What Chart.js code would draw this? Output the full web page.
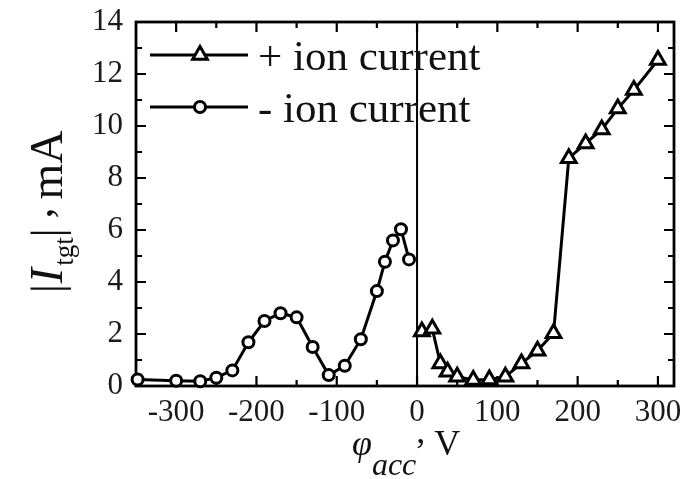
<!DOCTYPE html>
<html>
<head>
<meta charset="utf-8">
<script src="https://cdn.jsdelivr.net/npm/chart.js@4.4.0/dist/chart.umd.min.js"></script>
<style>
  html, body { margin: 0; padding: 0; background: #fff; }
  canvas { display: block; }
</style>
</head>
<body>
<canvas id="myChart" width="693" height="479"></canvas>
<script>
// + ion current (triangles)
const posX = [6, 19, 29, 38, 50, 70, 90, 110, 130, 150, 170, 189, 210, 230, 250, 270, 300];
const posY = [2.1, 2.2, 0.87, 0.55, 0.36, 0.23, 0.25, 0.36, 0.87, 1.36, 2.03, 8.76, 9.33, 9.87, 10.67, 11.38, 12.54];

// - ion current (circles)
const negX = [-348, -300, -270, -250, -230, -210, -190, -170, -150, -130, -110, -90, -70, -50, -40, -30, -20, -10];
const negY = [0.25, 0.2, 0.18, 0.32, 0.6, 1.68, 2.5, 2.8, 2.64, 1.5, 0.42, 0.78, 1.8, 3.65, 4.78, 5.6, 6.03, 4.87];

const xTicks = [-300, -200, -100, 0, 100, 200, 300];
const yTicks = [0, 2, 4, 6, 8, 10, 12, 14];
const seriesLabels = ['+ ion current', '- ion current'];

const serif = '"Liberation Serif", "Times New Roman", serif';

// draws a run of text pieces one after another
function drawRich(ctx, parts, x, y) {
  let pos = x;
  parts.forEach(p => {
    pos += p.gap || 0;
    ctx.font = p.font;
    ctx.fillText(p.text, pos, y + (p.dy || 0));
    pos += ctx.measureText(p.text).width;
  });
}

const framePlugin = {
  id: 'frame',
  beforeDatasetsDraw(chart) {
    const { ctx, chartArea: a, scales: { x, y } } = chart;
    ctx.save();
    ctx.strokeStyle = '#000';
    ctx.lineWidth = 2.8;
    ctx.strokeRect(a.left, a.top, a.right - a.left, a.bottom - a.top);

    // zero line
    const x0 = x.getPixelForValue(0);
    ctx.lineWidth = 2;
    ctx.beginPath();
    ctx.moveTo(x0, a.top);
    ctx.lineTo(x0, a.bottom);
    ctx.stroke();

    // inward ticks, top and bottom
    ctx.lineWidth = 2.2;
    for (let v = -300; v <= 300; v += 50) {
      const px = x.getPixelForValue(v);
      const len = v % 100 === 0 ? 10 : 6;
      ctx.beginPath();
      ctx.moveTo(px, a.bottom); ctx.lineTo(px, a.bottom - len);
      ctx.moveTo(px, a.top); ctx.lineTo(px, a.top + len);
      ctx.stroke();
    }
    // inward ticks, left and right
    for (let v = 1; v < 14; v++) {
      const py = y.getPixelForValue(v);
      const len = v % 2 === 0 ? 10 : 6;
      ctx.beginPath();
      ctx.moveTo(a.left, py); ctx.lineTo(a.left + len, py);
      ctx.moveTo(a.right, py); ctx.lineTo(a.right - len, py);
      ctx.stroke();
    }
    ctx.restore();
  },
  afterDraw(chart) {
    const { ctx } = chart;
    ctx.save();
    ctx.fillStyle = '#111';
    ctx.textBaseline = 'alphabetic';

    // legend
    const rows = [55, 107];
    chart.data.datasets.forEach((ds, i) => {
      const ly = rows[i];
      ctx.strokeStyle = '#000';
      ctx.lineWidth = 3.2;
      ctx.beginPath();
      ctx.moveTo(150, ly); ctx.lineTo(248, ly);
      ctx.stroke();
      ctx.fillStyle = '#fff';
      ctx.lineWidth = 3;
      Chart.helpers.drawPoint(ctx, {
        pointStyle: ds.pointStyle, radius: ds.pointRadius, rotation: 0, borderWidth: 3
      }, 200, ly);
      ctx.fillStyle = '#111';
      ctx.font = '43px ' + serif;
      ctx.fillText(ds.label, 258, ly + 15);
    });

    // x title: φacc, V
    drawRich(ctx, [
      { text: '\u03C6', font: 'italic 36px ' + serif },
      { text: 'acc', font: 'italic 32px ' + serif, dy: 20 },
      { text: ',', font: '36px ' + serif, dy: -12 },
      { text: ' V', font: '36px ' + serif }
    ], 352, 455);

    // y title: |Itgt|, mA
    ctx.translate(62, 293);
    ctx.rotate(-Math.PI / 2);
    drawRich(ctx, [
      { text: '|', font: '44px ' + serif },
      { text: 'I', font: 'italic 46px ' + serif, gap: 1 },
      { text: 'tgt', font: '27px ' + serif, dy: 11, gap: 2 },
      { text: '|', font: '44px ' + serif },
      { text: ',', font: '44px ' + serif, dy: -10, gap: 10 },
      { text: 'mA', font: '46px ' + serif, gap: 8 }
    ], 0, 0);
    ctx.restore();
  }
};

const ctx = document.getElementById('myChart');

new Chart(ctx, {
  type: 'line',
  data: {
    datasets: [{
      label: seriesLabels[0],
      data: posX.map((v, i) => ({ x: v, y: posY[i] })),
      borderColor: '#000',
      borderWidth: 3,
      pointStyle: 'triangle',
      pointRadius: 8.5,
      pointBorderWidth: 3,
      pointBackgroundColor: '#fff',
      pointBorderColor: '#000',
      tension: 0,
      clip: false
    }, {
      label: seriesLabels[1],
      data: negX.map((v, i) => ({ x: v, y: negY[i] })),
      borderColor: '#000',
      borderWidth: 3,
      pointStyle: 'circle',
      pointRadius: 5.5,
      pointBorderWidth: 3,
      pointBackgroundColor: '#fff',
      pointBorderColor: '#000',
      tension: 0,
      clip: false
    }]
  },
  options: {
    responsive: false,
    animation: false,
    devicePixelRatio: 1,
    layout: { padding: { top: 22, right: 19, left: 0, bottom: 0 } },
    plugins: { legend: { display: false }, tooltip: { enabled: false } },
    scales: {
      x: {
        type: 'linear',
        min: -350,
        max: 320,
        afterBuildTicks: s => { s.ticks = xTicks.map(v => ({ value: v })); },
        afterFit: s => { s.height = 93; s.paddingLeft = 0; s.paddingRight = 0; },
        grid: { display: false, drawTicks: false },
        border: { display: false },
        ticks: {
          color: '#1a1a1a',
          font: { family: serif, size: 31 },
          padding: 8,
          maxRotation: 0,
          autoSkip: false
        }
      },
      y: {
        min: 0,
        max: 14,
        afterBuildTicks: s => { s.ticks = yTicks.map(v => ({ value: v })); },
        afterFit: s => { s.width = 136; s.paddingTop = 0; s.paddingBottom = 0; },
        grid: { display: false, drawTicks: false },
        border: { display: false },
        ticks: {
          color: '#1a1a1a',
          font: { family: serif, size: 31 },
          padding: 13
        }
      }
    }
  },
  plugins: [framePlugin]
});
</script>
</body>
</html>
